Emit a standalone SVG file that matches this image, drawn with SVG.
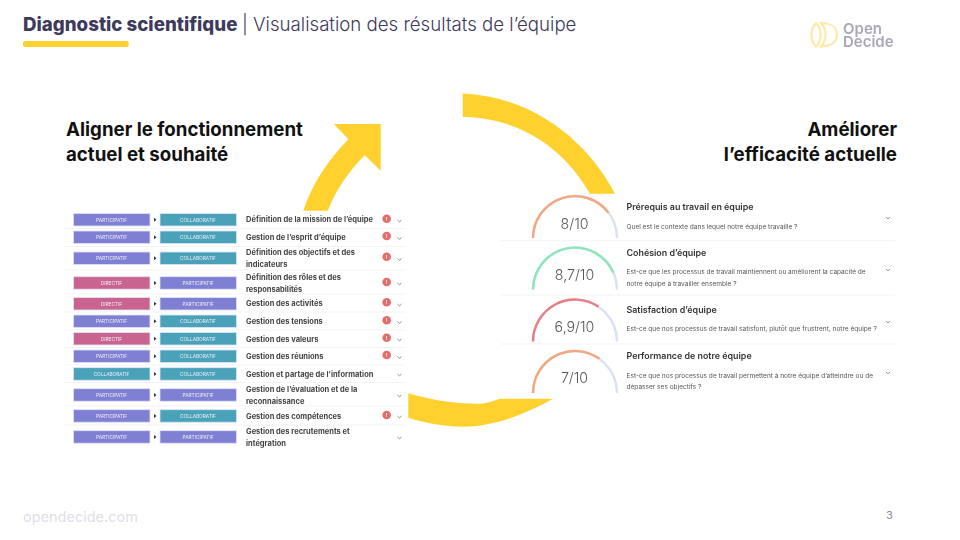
<svg xmlns="http://www.w3.org/2000/svg" width="960" height="540" viewBox="0 0 960 540">
<defs><filter id="soft" x="-2%" y="-2%" width="104%" height="104%"><feGaussianBlur stdDeviation="0.35"/></filter></defs>
<style>
text{font-family:"Inter","Noto Sans","Liberation Sans",sans-serif}
.pill{stroke:#dfe3f7;stroke-width:.8}
.par{fill:#7f7fd3}.col{fill:#48a2b8}.dir{fill:#c9648f}
.pt{font-size:4.8px;fill:#f0f0fa;text-anchor:middle}
.rt{font-size:7.5px;font-weight:700;fill:#444}
.sep{stroke:#f3f3f5;stroke-width:1}
.chev{fill:none;stroke:#8f8f8f;stroke-width:1}
.badge{fill:#e66c6c}
.bt{font-size:5px;fill:#fff;text-anchor:middle;font-weight:700}
.tri{fill:#333}
.trk{fill:none;stroke:#dbe0f2;stroke-width:2.4}
.val{font-size:14.2px;font-weight:300;fill:#555;text-anchor:middle}
.gt{font-size:8.9px;font-weight:600;fill:#333}
.gd{font-size:6.55px;fill:#555}
.head{font-size:18.7px;font-weight:700;fill:#111}
.soft{filter:url(#soft)}
</style>
<rect width="960" height="540" fill="#fff"/>
<g id="connectors" fill="#ffd12f">
<path d="M462.7 93.5C527 96 584 135 615 193.7H590C562 145 517 118 462.7 116.7Z"/>
<path d="M303.3 210.7C312 184 328 160 348.3 139.3L334 124H380.7V170.7L364.7 155.3C348 172 336 190 327.7 210.7Z"/>
<path d="M408.3 393.3C438 402 462 404 480 403.7C490 403 495 400 500 398.7H553C520 417 490 427 462 426.7C442 426 425 423 408.3 417.7Z"/>
</g>
<g id="header">
<text x="23" y="30.5" font-size="18.7" font-weight="800" fill="#3d3a5c">Diagnostic scientifique</text>
<text x="242" y="30.5" font-size="18.65" font-weight="300" fill="#3d3a5c">| Visualisation des résultats de l’équipe</text>
<rect x="23" y="41" width="105.7" height="6" rx="2" fill="#ffd12f"/>
</g>
<g id="logo" class="soft">
<path d="M816 23.500C810 28 810 41 816 46.500C822 41 822 28 816 23.500Z" fill="none" stroke="#fde9a8" stroke-width="2.200"/>
<path d="M821 23C832 23 837 28 837 34.500C837 41 832 46.500 821 46.500C827 40 827 29 821 23Z" fill="none" stroke="#fde9a8" stroke-width="2.200"/>
<text x="843" y="33.500" font-size="15" font-weight="600" fill="#a8a8b8">Open</text>
<text x="843" y="46.500" font-size="15" font-weight="600" fill="#a8a8b8">Decide</text>
</g>
<g id="left-heading">
<text class="head" x="66" y="135.500">Aligner le fonctionnement</text>
<text class="head" x="66" y="160.500">actuel et souhaité</text>
</g>
<g id="right-heading" text-anchor="end">
<text class="head" x="897" y="135.500">Améliorer</text>
<text class="head" x="897" y="160.500">l’efficacité actuelle</text>
</g>
<g id="separators-left">
<path class="sep" d="M65 228.500H405M65 246.500H405M65 270H405M65 294H405M65 312H405M65 330H405M65 347.500H405M65 365H405M65 382.500H405M65 406H405M65 425H405"/>
</g>
<g class="soft">
<g id="row1"><rect class="pill par" x="73.500" y="213.500" width="76.500" height="12.500"/><rect class="pill col" x="160" y="213.500" width="76.500" height="12.500"/><text class="pt" x="111.500" y="221.500">PARTICIPATIF</text><text class="pt" x="198" y="221.500">COLLABORATIF</text><path class="tri" d="M154 217.800l2.500 2-2.500 2z"/><text class="rt" x="246" y="222">Définition de la mission de l’équipe</text><circle class="badge" cx="386.700" cy="218.700" r="4.300"/><text class="bt" x="386.700" y="220.500">!</text><path class="chev" d="M397.500 220l2 1.800 2-1.800"/></g>
<g id="row2"><rect class="pill par" x="73.500" y="231" width="76.500" height="12.500"/><rect class="pill col" x="160" y="231" width="76.500" height="12.500"/><text class="pt" x="111.500" y="239">PARTICIPATIF</text><text class="pt" x="198" y="239">COLLABORATIF</text><path class="tri" d="M154 235.300l2.500 2-2.500 2z"/><text class="rt" x="246" y="240">Gestion de l’esprit d’équipe</text><circle class="badge" cx="386.700" cy="236" r="4.300"/><text class="bt" x="386.700" y="237.800">!</text><path class="chev" d="M397.500 237.500l2 1.800 2-1.800"/></g>
<g id="row3"><rect class="pill par" x="73.500" y="252" width="76.500" height="12.500"/><rect class="pill col" x="160" y="252" width="76.500" height="12.500"/><text class="pt" x="111.500" y="260">PARTICIPATIF</text><text class="pt" x="198" y="260">COLLABORATIF</text><path class="tri" d="M154 256.300l2.500 2-2.500 2z"/><text class="rt" x="246" y="255">Définition des objectifs et des</text><text class="rt" x="246" y="267">indicateurs</text><circle class="badge" cx="386.700" cy="256.700" r="4.300"/><text class="bt" x="386.700" y="258.500">!</text><path class="chev" d="M397.500 258.500l2 1.800 2-1.800"/></g>
<g id="row4"><rect class="pill dir" x="73.500" y="276.700" width="76.500" height="12.500"/><rect class="pill par" x="160" y="276.700" width="76.500" height="12.500"/><text class="pt" x="111.500" y="284.700">DIRECTIF</text><text class="pt" x="198" y="284.700">PARTICIPATIF</text><path class="tri" d="M154 281l2.500 2-2.500 2z"/><text class="rt" x="246" y="279.500">Définition des rôles et des</text><text class="rt" x="246" y="291.700">responsabilités</text><circle class="badge" cx="386.700" cy="282" r="4.300"/><text class="bt" x="386.700" y="283.800">!</text><path class="chev" d="M397.500 283l2 1.800 2-1.800"/></g>
<g id="row5"><rect class="pill dir" x="73.500" y="297.500" width="76.500" height="12.500"/><rect class="pill par" x="160" y="297.500" width="76.500" height="12.500"/><text class="pt" x="111.500" y="305.500">DIRECTIF</text><text class="pt" x="198" y="305.500">PARTICIPATIF</text><path class="tri" d="M154 301.800l2.500 2-2.500 2z"/><text class="rt" x="246" y="306">Gestion des activités</text><circle class="badge" cx="386.700" cy="302.300" r="4.300"/><text class="bt" x="386.700" y="304.100">!</text><path class="chev" d="M397.500 304l2 1.800 2-1.800"/></g>
<g id="row6"><rect class="pill par" x="73.500" y="315" width="76.500" height="12.500"/><rect class="pill col" x="160" y="315" width="76.500" height="12.500"/><text class="pt" x="111.500" y="323">PARTICIPATIF</text><text class="pt" x="198" y="323">COLLABORATIF</text><path class="tri" d="M154 319.300l2.500 2-2.500 2z"/><text class="rt" x="246" y="323.700">Gestion des tensions</text><circle class="badge" cx="386.700" cy="320.300" r="4.300"/><text class="bt" x="386.700" y="322.100">!</text><path class="chev" d="M397.500 321.500l2 1.800 2-1.800"/></g>
<g id="row7"><rect class="pill dir" x="73.500" y="332.500" width="76.500" height="12.500"/><rect class="pill col" x="160" y="332.500" width="76.500" height="12.500"/><text class="pt" x="111.500" y="340.500">DIRECTIF</text><text class="pt" x="198" y="340.500">COLLABORATIF</text><path class="tri" d="M154 336.800l2.500 2-2.500 2z"/><text class="rt" x="246" y="341.700">Gestion des valeurs</text><circle class="badge" cx="386.700" cy="337.700" r="4.300"/><text class="bt" x="386.700" y="339.500">!</text><path class="chev" d="M397.500 339l2 1.800 2-1.800"/></g>
<g id="row8"><rect class="pill par" x="73.500" y="350" width="76.500" height="12.500"/><rect class="pill col" x="160" y="350" width="76.500" height="12.500"/><text class="pt" x="111.500" y="358">PARTICIPATIF</text><text class="pt" x="198" y="358">COLLABORATIF</text><path class="tri" d="M154 354.300l2.500 2-2.500 2z"/><text class="rt" x="246" y="359">Gestion des réunions</text><circle class="badge" cx="386.700" cy="355" r="4.300"/><text class="bt" x="386.700" y="356.800">!</text><path class="chev" d="M397.500 356.500l2 1.800 2-1.800"/></g>
<g id="row9"><rect class="pill col" x="73.500" y="367.700" width="76.500" height="12.500"/><rect class="pill col" x="160" y="367.700" width="76.500" height="12.500"/><text class="pt" x="111.500" y="375.700">COLLABORATIF</text><text class="pt" x="198" y="375.700">COLLABORATIF</text><path class="tri" d="M154 372l2.500 2-2.500 2z"/><text class="rt" x="246" y="376.700">Gestion et partage de l’information</text><path class="chev" d="M397.500 374l2 1.800 2-1.800"/></g>
<g id="row10"><rect class="pill par" x="73.500" y="388.700" width="76.500" height="12.500"/><rect class="pill par" x="160" y="388.700" width="76.500" height="12.500"/><text class="pt" x="111.500" y="396.700">PARTICIPATIF</text><text class="pt" x="198" y="396.700">PARTICIPATIF</text><path class="tri" d="M154 393l2.500 2-2.500 2z"/><text class="rt" x="246" y="391.700">Gestion de l’évaluation et de la</text><text class="rt" x="246" y="404">reconnaissance</text><path class="chev" d="M397.500 395l2 1.800 2-1.800"/></g>
<g id="row11"><rect class="pill par" x="73.500" y="409.700" width="76.500" height="12.500"/><rect class="pill col" x="160" y="409.700" width="76.500" height="12.500"/><text class="pt" x="111.500" y="417.700">PARTICIPATIF</text><text class="pt" x="198" y="417.700">COLLABORATIF</text><path class="tri" d="M154 414l2.500 2-2.500 2z"/><text class="rt" x="246" y="418.700">Gestion des compétences</text><circle class="badge" cx="386.700" cy="415" r="4.300"/><text class="bt" x="386.700" y="416.800">!</text><path class="chev" d="M397.500 416l2 1.800 2-1.800"/></g>
<g id="row12"><rect class="pill par" x="73.500" y="430.700" width="76.500" height="12.500"/><rect class="pill par" x="160" y="430.700" width="76.500" height="12.500"/><text class="pt" x="111.500" y="438.700">PARTICIPATIF</text><text class="pt" x="198" y="438.700">PARTICIPATIF</text><path class="tri" d="M154 435l2.500 2-2.500 2z"/><text class="rt" x="246" y="433.700">Gestion des recrutements et</text><text class="rt" x="246" y="445.700">intégration</text><path class="chev" d="M397.500 437l2 1.800 2-1.800"/></g>
</g>
<g id="separators-right">
<path class="sep" d="M500 240.700H895M500 295H895M500 344H895"/>
</g>
<g class="soft">
<g id="gauge1"><path class="trk" d="M533 238A42 42 0 0 1 617 238"/><path d="M533 238A42 42 0 0 1 608.500 212.800" fill="none" stroke="#f4a77e" stroke-width="2.400"/><text class="val" x="574.500" y="228.500">8/10</text><text class="gt" x="626.500" y="209.500">Prérequis au travail en équipe</text><text class="gd" x="626.500" y="228.500">Quel est le contexte dans lequel notre équipe travaille ?</text><path class="chev" d="M886 217l2 1.800 2-1.800"/></g>
<g id="gauge2"><path class="trk" d="M533 289.500A42 42 0 0 1 617 289.500"/><path d="M533 289.500A42 42 0 0 1 613.400 272.700" fill="none" stroke="#8ce6b8" stroke-width="2.400"/><text class="val" x="574.500" y="280">8,7/10</text><text class="gt" x="626.500" y="255.500">Cohésion d’équipe</text><text class="gd" x="626.500" y="274">Est-ce que les processus de travail maintiennent ou améliorent la capacité de</text><text class="gd" x="626.500" y="285.700">notre équipe à travailler ensemble ?</text><path class="chev" d="M886 269l2 1.800 2-1.800"/></g>
<g id="gauge3"><path class="trk" d="M533 341.500A42 42 0 0 1 617 341.500"/><path d="M533 341.500A42 42 0 0 1 598.400 306.700" fill="none" stroke="#e87f85" stroke-width="2.400"/><text class="val" x="574.500" y="331.700">6,9/10</text><text class="gt" x="626.500" y="312.700">Satisfaction d’équipe</text><text class="gd" x="626.500" y="331">Est-ce que nos processus de travail satisfont, plutôt que frustrent, notre équipe ?</text><path class="chev" d="M886 321l2 1.800 2-1.800"/></g>
<g id="gauge4"><path class="trk" d="M533 393A42 42 0 0 1 617 393"/><path d="M533 393A42 42 0 0 1 599.400 358.800" fill="none" stroke="#f4a77e" stroke-width="2.400"/><text class="val" x="574.500" y="383.300">7/10</text><text class="gt" x="626.500" y="359">Performance de notre équipe</text><text class="gd" x="626.500" y="377.700">Est-ce que nos processus de travail permettent à notre équipe d’atteindre ou de</text><text class="gd" x="626.500" y="389">dépasser ses objectifs ?</text><path class="chev" d="M886 372l2 1.800 2-1.800"/></g>
</g>
<g id="footer">
<text x="23" y="522" font-size="14.500" fill="#e0e0e8">opendecide.com</text>
<text x="886" y="519" font-size="11" fill="#8a8a92">3</text>
</g>
</svg>
